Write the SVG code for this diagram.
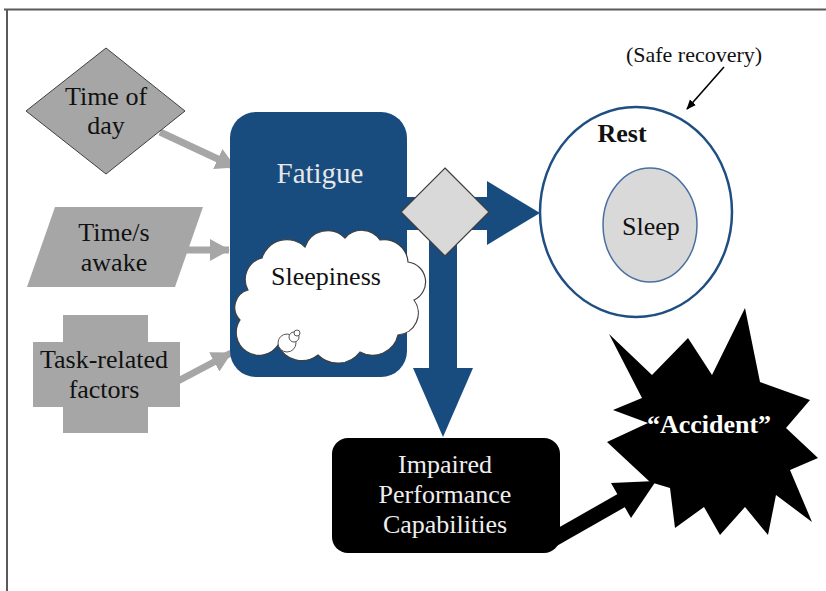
<svg xmlns="http://www.w3.org/2000/svg" width="826" height="591" viewBox="0 0 826 591">
<style>
text{font-family:'Liberation Serif','Times New Roman','DejaVu Serif',serif;text-anchor:middle}
.lbl{font-size:26px;fill:#111}
.gray{fill:#a6a6a6}
.blue{fill:#184b7e}
.garrow{stroke:#a6a6a6;stroke-width:7;fill:none}
</style>
<defs>
<marker id="gh" viewBox="0 0 20 22" refX="19" refY="11" markerWidth="20" markerHeight="22" markerUnits="userSpaceOnUse" orient="auto">
<path d="M0,0 L20,11 L0,22 z" fill="#a6a6a6"/>
</marker>
<marker id="bh" viewBox="0 0 10 10" refX="9" refY="5" markerWidth="10" markerHeight="10" markerUnits="userSpaceOnUse" orient="auto">
<path d="M0,1 L10,5 L0,9 z" fill="#000"/>
</marker>
</defs>
<rect width="826" height="591" fill="#fff"/>
<g id="frame" stroke="#5a5a5a" stroke-width="2" fill="none">
<path d="M4,9.5 H826 M7,9 V591"/>
</g>

<g id="connectors">
<line class="garrow" x1="160" y1="132" x2="235" y2="167" marker-end="url(#gh)"/>
<line class="garrow" x1="178" y1="250" x2="229" y2="250" marker-end="url(#gh)"/>
<line class="garrow" x1="178" y1="381" x2="231" y2="353" marker-end="url(#gh)"/>
<rect class="blue" x="404" y="197" width="85" height="33"/>
<polygon class="blue" points="487,181 540,213 487,245"/>
<rect class="blue" x="429" y="212" width="28" height="158"/>
<polygon class="blue" points="413,368 473,368 443,437"/>
<line x1="552" y1="540" x2="624" y2="499" stroke="#000" stroke-width="15"/>
<polygon points="656,481 631,518 611,483" fill="#000"/>
<line x1="724" y1="67" x2="687" y2="109" stroke="#000" stroke-width="1.6" marker-end="url(#bh)"/>
</g>

<g id="time-of-day">
<polygon class="gray" points="106,48 185,111 106,174 26,111" stroke="#404040" stroke-width="1"/>
<text class="lbl" x="106" y="105" font-family="Liberation Serif, serif">Time of</text>
<text class="lbl" x="106" y="134" font-family="Liberation Serif, serif">day</text>
</g>

<g id="time-awake">
<polygon class="gray" points="55,207 203,207 175,287 27,287"/>
<text class="lbl" x="114" y="241" font-family="Liberation Serif, serif">Time/s</text>
<text class="lbl" x="114" y="271" font-family="Liberation Serif, serif">awake</text>
</g>

<g id="task-related">
<polygon class="gray" points="63,315 148,315 148,342 180,342 180,407 148,407 148,433 63,433 63,407 33,407 33,342 63,342"/>
<text class="lbl" x="104" y="368" font-family="Liberation Serif, serif">Task-related</text>
<text class="lbl" x="104" y="398" font-family="Liberation Serif, serif">factors</text>
</g>

<g id="fatigue">
<rect class="blue" x="230" y="112" width="177" height="265" rx="26"/>
<text x="320" y="183" font-size="29" fill="#e8e8e8" font-family="Liberation Serif, serif">Fatigue</text>
</g>

<g id="sleepiness">
<path d="M248,290 A22,22 0 0 1 262,258 A26,26 0 0 1 305,247 A24,24 0 0 1 345,238 A22,22 0 0 1 380,240 A24,24 0 0 1 408,262 A20,20 0 0 1 414,300 A22,22 0 0 1 398,335 A26,26 0 0 1 360,352 A28,28 0 0 1 318,355 A26,26 0 0 1 278,345 A22,22 0 0 1 240,320 A18,18 0 0 1 248,290 Z" fill="#fff" stroke="#404040" stroke-width="1.2"/>
<circle cx="287" cy="343" r="9" fill="#fff" stroke="#555" stroke-width="1"/>
<circle cx="294" cy="337" r="5" fill="#fff" stroke="#555" stroke-width="1"/>
<circle cx="297" cy="333" r="3" fill="#fff" stroke="#555" stroke-width="1"/>
<text x="326" y="285" font-size="26" fill="#111" font-family="Liberation Serif, serif">Sleepiness</text>
</g>

<g id="decision">
<polygon points="445,168 489,212 445,256 401,212" fill="#d9d9d9" stroke="#404040" stroke-width="1.2"/>
</g>

<g id="rest">
<ellipse cx="636" cy="212" rx="96" ry="105" fill="#fff" stroke="#1f4f82" stroke-width="2.5"/>
<text x="622" y="142" font-size="26" font-weight="bold" fill="#111" font-family="Liberation Serif, serif">Rest</text>
</g>

<g id="sleep">
<ellipse cx="650" cy="225" rx="47" ry="57" fill="#d9d9d9" stroke="#4a70a0" stroke-width="1.5"/>
<text class="lbl" x="651" y="235" font-family="Liberation Serif, serif">Sleep</text>
</g>

<g id="safe-recovery">
<text x="694" y="62" font-size="22" fill="#111" font-family="Liberation Serif, serif">(Safe recovery)</text>
</g>

<g id="impaired">
<rect x="332" y="438" width="228" height="115" rx="16" fill="#000"/>
<text x="445" y="473" font-size="26" fill="#eee" font-family="Liberation Serif, serif">Impaired</text>
<text x="445" y="503" font-size="26" fill="#eee" font-family="Liberation Serif, serif">Performance</text>
<text x="445" y="533" font-size="26" fill="#eee" font-family="Liberation Serif, serif">Capabilities</text>
</g>

<g id="accident">
<polygon points="609,334 652,375 688,338 712,375 745,308 760,382 810,400 786,428 818,458 790,470 812,522 776,495 768,535 745,507 720,535 704,507 675,528 670,488 650,482 607,442 648,423 613,410 642,398" fill="#000"/>
<text x="709" y="433" font-size="26" font-weight="bold" fill="#fff" font-family="Liberation Serif, serif">“Accident”</text>
</g>
</svg>
